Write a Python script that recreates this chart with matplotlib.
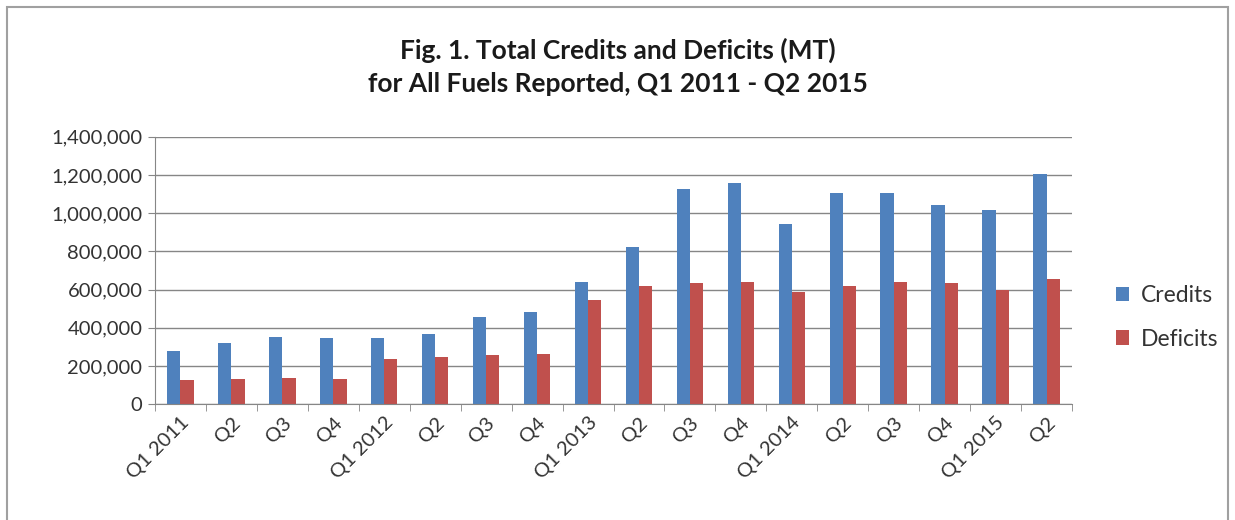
import matplotlib.pyplot as plt
import matplotlib.patches as mpatches
import numpy as np
from matplotlib.ticker import FuncFormatter

quarters = ['Q1 2011', 'Q2', 'Q3', 'Q4', 'Q1 2012', 'Q2', 'Q3', 'Q4',
            'Q1 2013', 'Q2', 'Q3', 'Q4', 'Q1 2014', 'Q2', 'Q3', 'Q4',
            'Q1 2015', 'Q2']
credits = [277000, 323000, 354000, 349000, 349000, 370000, 455000, 483000,
           640000, 825000, 1125000, 1160000, 945000, 1105000, 1105000,
           1043000, 1017000, 1203000]
deficits = [126000, 131000, 140000, 131000, 237000, 249000, 256000, 265000,
            548000, 620000, 633000, 640000, 589000, 621000, 640000,
            633000, 598000, 654000]

plt.rcParams['font.family'] = ['Lato', 'DejaVu Sans']

W, H = 1235, 520
fig = plt.figure(figsize=(W / 100, H / 100), dpi=100)
ax = fig.add_axes([155 / W, 1 - 404.3 / H, (1072 - 155) / W, (404.3 - 136.7) / H])

# chart area border (bottom edge falls outside the image)
fig.patches.append(mpatches.Rectangle((7 / W, -0.1), (1228 - 7) / W, 1.1 - 7 / H,
                                      transform=fig.transFigure, fill=False,
                                      edgecolor='#a0a0a0', linewidth=1.5))

x = np.arange(len(quarters))
w = 0.26
ax.bar(x - w / 2, credits, w, color='#4F81BD', label='Credits')
ax.bar(x + w / 2, deficits, w, color='#C0504D', label='Deficits')

ax.set_xlim(-0.5, len(quarters) - 0.5)
ax.set_ylim(0, 1400000)
ax.set_yticks(np.arange(0, 1400001, 200000))
ax.yaxis.set_major_formatter(FuncFormatter(lambda v, p: f'{int(v):,}'))
ax.grid(axis='y', color='#868686', linewidth=1)
ax.set_axisbelow(True)

ax.set_xticks(x)
ax.set_xticklabels(quarters, rotation=45, ha='right', rotation_mode='anchor')
ax.set_xticks(np.arange(-0.5, len(quarters)), minor=True)
ax.tick_params(axis='x', which='major', length=0, labelsize=14.5, pad=7, colors='#333333')
ax.tick_params(axis='x', which='minor', length=5, color='#868686')
ax.tick_params(axis='y', length=5, color='#868686', labelsize=14.5, pad=4, labelcolor='#333333')

for s in ['top', 'right']:
    ax.spines[s].set_visible(False)
for s in ['left', 'bottom']:
    ax.spines[s].set_color('#868686')

fig.text(0.5, 1 - 67 / H, 'Fig. 1. Total Credits and Deficits (MT)\nfor All Fuels Reported, Q1 2011 - Q2 2015',
         ha='center', va='center', fontsize=19, fontweight='bold', linespacing=1.45,
         color='#1a1a1a')

ax.legend(loc='center left', bbox_to_anchor=(1.025, 0.325), frameon=False,
          fontsize=16.5, handlelength=0.6, handleheight=0.6, labelspacing=1.0,
          handletextpad=0.5, labelcolor='#333333')

fig.savefig('out.png', dpi=100)
